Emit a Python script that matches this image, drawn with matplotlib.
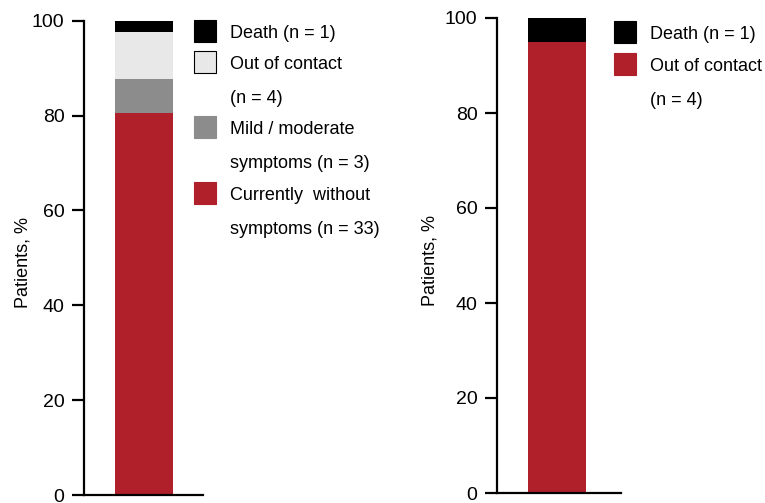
import matplotlib
matplotlib.use("Agg")
import matplotlib.pyplot as plt
from matplotlib.patches import Rectangle

plt.rcParams['font.family'] = ['Liberation Sans', 'DejaVu Sans']

# Left panel: outcome of 41 patients
left_labels = ["Currently  without\nsymptoms (n = 33)", "Mild / moderate\nsymptoms (n = 3)",
               "Out of contact\n(n = 4)", "Death (n = 1)"]
left_counts = [33, 3, 4, 1]
left_colors = ["#b0202b", "#8c8c8c", "#e8e8e8", "#000000"]

# Right panel
right_labels = ["Out of contact\n(n = 4)", "Death (n = 1)"]
right_values = [95, 5]
right_colors = ["#b0202b", "#000000"]

yticks = [0, 20, 40, 60, 80, 100]

W, H = 765, 503
fig = plt.figure(figsize=(W / 100, H / 100), dpi=100)


def px(x, y):
    return x / W, 1 - y / H


def stack(ax, values, colors):
    bottom = 0
    for v, c in zip(values, colors):
        ax.bar(0, v, width=1, bottom=bottom, color=c, edgecolor='none')
        bottom += v


def style(ax, xlim, label_x):
    ax.set_xlim(*xlim)
    ax.set_ylim(0, 100)
    ax.set_yticks(yticks)
    ax.set_xticks([])
    for s in ['top', 'right']:
        ax.spines[s].set_visible(False)
    ax.spines['left'].set_linewidth(1.6)
    ax.spines['bottom'].set_linewidth(1.6)
    ax.tick_params(axis='y', length=8.5, width=1.6, labelsize=14, pad=5.5)
    ax.set_ylabel("Patients, %", fontsize=13)
    ax.yaxis.set_label_coords(label_x, 0.49)


def legend(x0, y_rows, labels, colors, edges):
    # y_rows: top pixel of each square
    for lab, c, e, yt in zip(labels, colors, edges, y_rows):
        x, y = px(x0, yt + 22)
        fig.add_artist(Rectangle((x, y), 22 / W, 22 / H, facecolor=c,
                                 edgecolor='black' if e else c, linewidth=0.8,
                                 transform=fig.transFigure))
        tx, ty = px(x0 + 36, yt + 5)
        fig.text(tx, ty, lab, fontsize=13, va='top', ha='left',
                 linespacing=2.3, transform=fig.transFigure)


# left panel
ax1 = fig.add_axes([84 / W, 8 / H, 119 / W, 474.3 / H])
left_pct = [c / sum(left_counts) * 100 for c in left_counts]
stack(ax1, left_pct, left_colors)
style(ax1, (-1.034, 1.017), -0.437)

# right panel
ax2 = fig.add_axes([497 / W, 10 / H, 124 / W, 475 / H])
stack(ax2, right_values, right_colors)
style(ax2, (-1.034, 1.103), -0.468)

# legends (top to bottom)
legend(194, [20, 51, 116, 182], left_labels[::-1], left_colors[::-1],
       [False, True, False, False])
legend(614, [21, 53], right_labels[::-1], right_colors[::-1], [False, False])

fig.savefig("out.png", dpi=100)
